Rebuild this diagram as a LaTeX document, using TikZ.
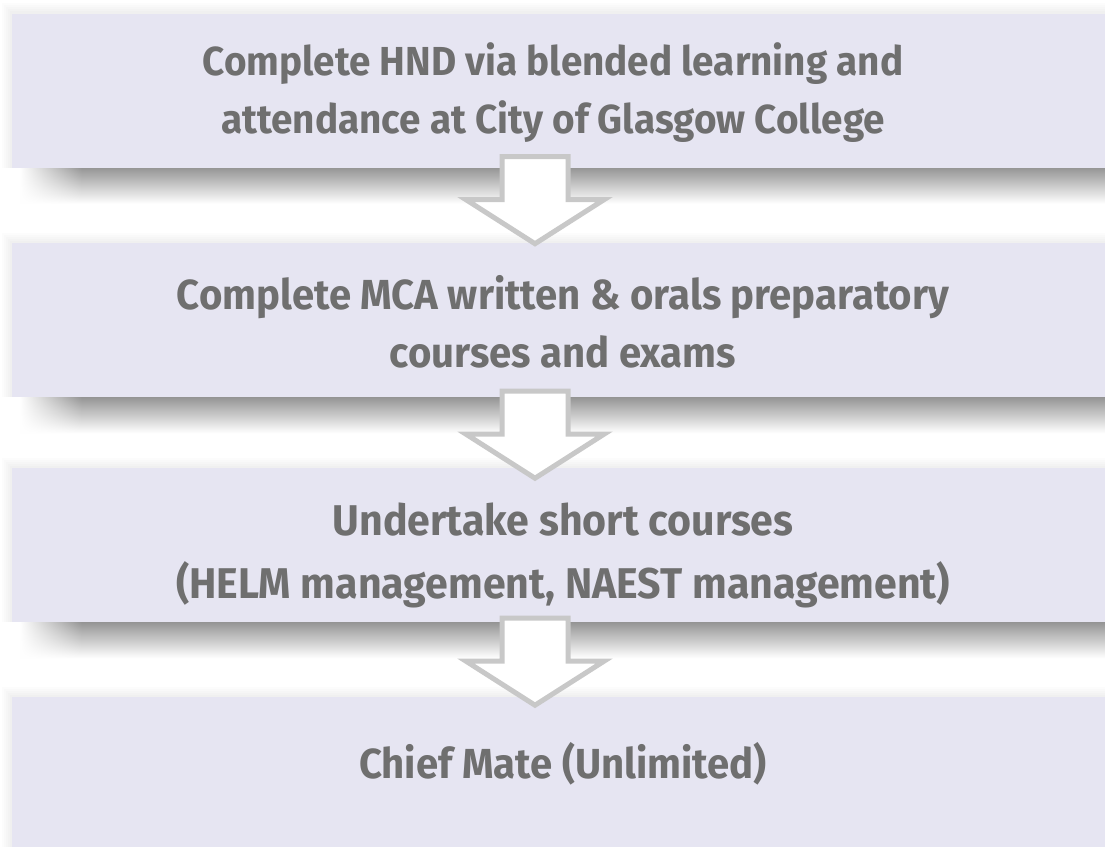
\documentclass[tikz,border=0pt]{standalone}
\usepackage{fontspec}
\newfontfamily\lblfont{Fira Sans}[FakeStretch=0.955]
\usetikzlibrary{fadings,backgrounds,calc}
\definecolor{boxfill}{HTML}{E6E5F2}
\definecolor{txt}{HTML}{6F6F6F}
\definecolor{arrowline}{HTML}{C8C8C8}
\definecolor{shadowgray}{HTML}{959595}
\tikzfading[name=fadeleft, left color=transparent!100, right color=transparent!0]
\begin{document}
\begin{tikzpicture}[x=1pt,y=-1pt,
  stage/.style={draw=none, fill=boxfill, minimum width=1103pt, minimum height=154pt, inner sep=0pt},
  lbl/.style={anchor=base, inner sep=0pt, text=txt, font=\lblfont\bfseries\fontsize{#1}{#1}\selectfont},
  blockarrow/.style={draw=arrowline, fill=white, line width=5pt, line join=miter},
  downarrow/.pic={\draw[blockarrow] (-33,0) -- (33,0) -- (33,43) -- (69,43) -- (0,87)
      -- (-69,43) -- (-33,43) -- cycle;}
]
\useasboundingbox (0,0) rectangle (1105,846);
\clip (0,0) rectangle (1105,846);

\node[stage] (b1) at (563.5,90.5) {};
\node[stage] (b2) at (563.5,320) {};
\node[stage] (b3) at (563.5,545) {};
\node[stage] (b4) at (563.5,774) {};

\node[lbl=40.5] (t1a) at (553,75) {Complete HND via blended learning and};
\node[lbl=40.5] (t1b) at (553,133) {attendance at City of Glasgow College};
\node[lbl=42] (t2a) at (563,309) {Complete MCA written \& orals preparatory};
\node[lbl=42] (t2b) at (563,367) {courses and exams};
\node[lbl=43] (t3a) at (563,535) {Undertake short courses};
\node[lbl=43] (t3b) at (563,598) {(HELM management, NAEST management)};
\node[lbl=42] (t4) at (563,778) {Chief Mate (Unlimited)};

\begin{scope}[on background layer]
  \fill[white] (0,0) rectangle (1105,846);
  \foreach \b in {b1,b2,b3,b4}{
    \foreach \g in {2,4,6,8,10}{
      \fill[black,opacity=0.012] ([xshift=-\g pt,yshift=\g pt]\b.north west) rectangle ([xshift=\g pt,yshift=-\g pt]\b.south east);
    }
  }
  \foreach \b in {b1,b2,b3}{
    \fill[white] ([xshift=-12pt]\b.south west) rectangle ([xshift=12pt,yshift=-36pt]\b.south east);
    \shade[top color=shadowgray, bottom color=white]
      ([xshift=70pt]\b.south west) rectangle ([xshift=12pt,yshift=-36pt]\b.south east);
    \shade[top color=shadowgray, bottom color=white, path fading=fadeleft]
      ([xshift=8pt]\b.south west) rectangle ([xshift=70pt,yshift=-36pt]\b.south west);
  }
\end{scope}

\pic at ($(b1.south -| 535,0)+(0,-11)$) {downarrow};
\pic at ($(b2.south -| 535,0)+(0,-6)$) {downarrow};
\pic at ($(b3.south -| 535,0)+(0,-4)$) {downarrow};
\end{tikzpicture}
\end{document}
